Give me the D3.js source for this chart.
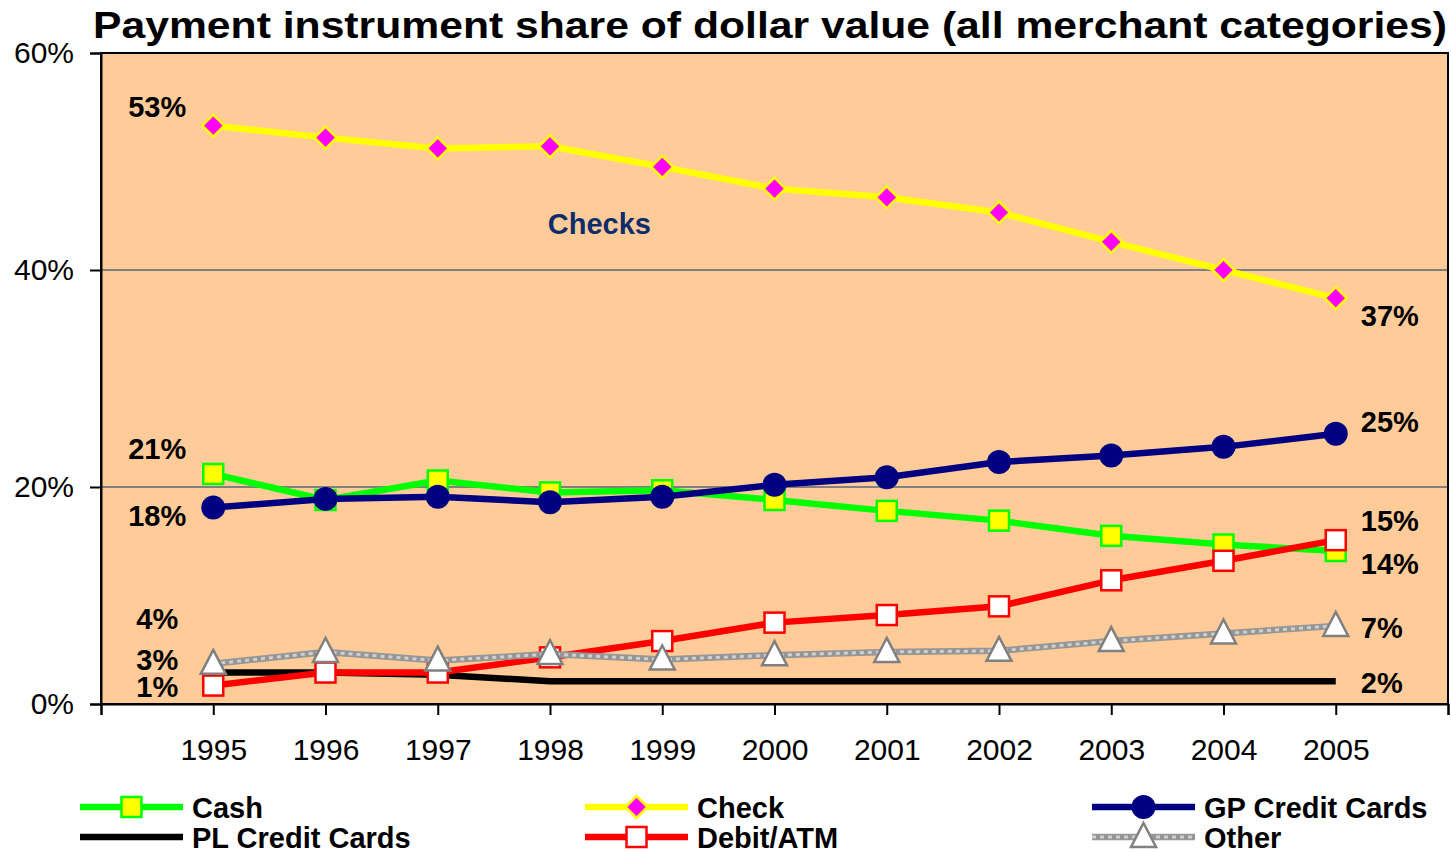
<!DOCTYPE html>
<html>
<head>
<meta charset="utf-8">
<script src="https://cdn.jsdelivr.net/npm/d3@7"></script>
<style>
  body { margin: 0; background: #fff; }
  text { font-family: "Liberation Sans", Arial, sans-serif; }
</style>
</head>
<body>
<div id="chart"></div>
<script>
// data (percent of dollar value)
const years = [1995, 1996, 1997, 1998, 1999, 2000, 2001, 2002, 2003, 2004, 2005];
const cash = [21.2, 18.8, 20.6, 19.5, 19.7, 18.8, 17.8, 16.9, 15.5, 14.7, 14.1];
const check = [53.3, 52.2, 51.2, 51.4, 49.5, 47.5, 46.7, 45.3, 42.6, 40.0, 37.4];
const gpCredit = [18.1, 18.9, 19.1, 18.6, 19.1, 20.2, 20.9, 22.3, 22.9, 23.7, 24.9];
const plCredit = [2.9, 2.9, 2.7, 2.1, 2.1, 2.1, 2.1, 2.1, 2.1, 2.1, 2.1];
const debit = [1.7, 2.9, 2.9, 4.3, 5.8, 7.5, 8.2, 9.0, 11.4, 13.2, 15.1];
const other = [3.7, 4.8, 4.0, 4.6, 4.1, 4.5, 4.8, 4.9, 5.8, 6.5, 7.2];
const yTicks = [0, 20, 40, 60];

// value labels: text, y position in data units
const leftLabels = [["53%", 55.0], ["21%", 23.5], ["18%", 17.3], ["4%", 7.8], ["3%", 4.05], ["1%", 1.6]];
const rightLabels = [["37%", 35.8], ["25%", 26.0], ["15%", 16.9], ["14%", 12.9], ["7%", 7.0], ["2%", 1.9]];

const series = [
  {name: "Cash", values: cash, color: "#00ff00", marker: "square", fill: "#ffff00", mstroke: "#00ff00"},
  {name: "Check", values: check, color: "#ffff00", marker: "diamond", fill: "#ff00ff", mstroke: "#ffff00"},
  {name: "GP Credit Cards", values: gpCredit, color: "#000080", marker: "circle", fill: "#000080", mstroke: "#000080"},
  {name: "PL Credit Cards", values: plCredit, color: "#000000", marker: null},
  {name: "Debit/ATM", values: debit, color: "#ff0000", marker: "square", fill: "#ffffff", mstroke: "#ff0000"},
  {name: "Other", values: other, color: "#969696", marker: "triangle", fill: "#ffffff", mstroke: "#808080", pattern: true}
];

const W = 1451, H = 852;
const margin = {top: 53, right: 3, bottom: 148, left: 101};
const width = W - margin.left - margin.right, height = H - margin.top - margin.bottom;

const svg = d3.select("#chart").append("svg")
  .attr("width", W).attr("height", H);

const x = d3.scaleLinear().domain([1994, 2006]).range([margin.left, margin.left + width]);
const y = d3.scaleLinear().domain([0, 60]).range([margin.top + height, margin.top]);

// plot background
svg.append("rect")
  .attr("x", x(1994)).attr("y", y(60))
  .attr("width", x(2006) - x(1994)).attr("height", y(0) - y(60))
  .attr("fill", "#ffcc99");

// grid lines
svg.append("g").selectAll("line")
  .data([20, 40])
  .join("line")
  .attr("x1", x(1994)).attr("x2", x(2006))
  .attr("y1", d => y(d)).attr("y2", d => y(d))
  .attr("stroke", "#808080").attr("stroke-width", 2);

// frame
svg.append("rect")
  .attr("x", x(1994)).attr("y", y(60))
  .attr("width", x(2006) - x(1994)).attr("height", y(0) - y(60))
  .attr("fill", "none").attr("stroke", "#000").attr("stroke-width", 2);

// y axis
const yAxis = d3.axisLeft(y).tickValues(yTicks).tickFormat(d => d + "%").tickSize(11).tickPadding(16);
const ya = svg.append("g").attr("transform", `translate(${x(1994)},0)`).call(yAxis);
ya.select(".domain").attr("stroke-width", 2);
ya.selectAll(".tick line").attr("stroke-width", 2);
ya.selectAll("text").attr("font-size", 30).attr("fill", "#000")
  .style("font-family", "Liberation Sans, Arial, sans-serif");

// x axis
const xAxis = d3.axisBottom(x).tickValues(d3.range(1994, 2007)).tickFormat(d => years.includes(d) ? d : "")
  .tickSize(11).tickPadding(24);
const xa = svg.append("g").attr("transform", `translate(0,${y(0)})`).call(xAxis);
xa.select(".domain").attr("stroke-width", 2);
xa.selectAll(".tick line").attr("stroke-width", 2);
xa.selectAll("text").attr("font-size", 30).attr("fill", "#000")
  .style("font-family", "Liberation Sans, Arial, sans-serif");

const line = d3.line().x((d, i) => x(years[i])).y(d => y(d));

function drawMarker(g, type, cx, cy, s) {
  if (type === "square") {
    g.append("rect").attr("x", cx - 10).attr("y", cy - 10).attr("width", 20).attr("height", 20)
      .attr("fill", s.fill).attr("stroke", s.mstroke).attr("stroke-width", 2.5);
  } else if (type === "diamond") {
    g.append("path").attr("d", `M${cx},${cy - 11}L${cx + 11},${cy}L${cx},${cy + 11}L${cx - 11},${cy}Z`)
      .attr("fill", s.fill).attr("stroke", s.mstroke).attr("stroke-width", 2.5);
  } else if (type === "circle") {
    g.append("circle").attr("cx", cx).attr("cy", cy).attr("r", 12).attr("fill", s.fill);
  } else if (type === "triangle") {
    g.append("path").attr("d", `M${cx},${cy - 14}L${cx + 12.5},${cy + 10}L${cx - 12.5},${cy + 10}Z`)
      .attr("fill", s.fill).attr("stroke", s.mstroke).attr("stroke-width", 2.5);
  }
}

function strokeLine(g, d, s) {
  g.append("path").attr("d", d).attr("fill", "none")
    .attr("stroke", s.color).attr("stroke-width", 6.5).attr("stroke-linejoin", "round");
  if (s.pattern) {
    g.append("path").attr("d", d).attr("fill", "none")
      .attr("stroke", "#cfcfcf").attr("stroke-width", 3).attr("stroke-dasharray", "4,4");
  }
}

// series
series.forEach(s => {
  const g = svg.append("g");
  strokeLine(g, line(s.values), s);
  if (s.marker) s.values.forEach((v, i) => drawMarker(g, s.marker, x(years[i]), y(v), s));
});

// value labels
const labelG = svg.append("g").attr("font-size", 29).attr("font-weight", "bold").attr("fill", "#000");
labelG.selectAll(".ll").data(leftLabels).join("text")
  .attr("x", x(1995) - 56).attr("y", d => y(d[1]))
  .attr("text-anchor", "middle").attr("dominant-baseline", "central").text(d => d[0]);
labelG.selectAll(".rl").data(rightLabels).join("text")
  .attr("x", x(2005) + 25).attr("y", d => y(d[1]))
  .attr("text-anchor", "start").attr("dominant-baseline", "central").text(d => d[0]);

svg.append("text")
  .attr("x", x(1998.44)).attr("y", y(44.2))
  .attr("text-anchor", "middle").attr("dominant-baseline", "central")
  .attr("font-size", 29).attr("font-weight", "bold").attr("fill", "#0c2c6c")
  .text("Checks");

// title
svg.append("text")
  .attr("x", 93).attr("y", 38)
  .attr("textLength", 1354).attr("lengthAdjust", "spacingAndGlyphs")
  .attr("font-size", 36).attr("font-weight", "bold").attr("fill", "#000")
  .text("Payment instrument share of dollar value (all merchant categories)");

// legend
const legendCols = [80, 585, 1092];
const legendRows = [807, 837];
series.forEach((s, i) => {
  const lx = legendCols[i % 3], ly = legendRows[Math.floor(i / 3)];
  const g = svg.append("g");
  strokeLine(g, `M${lx},${ly}L${lx + 103},${ly}`, s);
  if (s.marker) drawMarker(g, s.marker, lx + 51.5, ly, s);
  g.append("text").attr("x", lx + 112).attr("y", ly + 11)
    .attr("font-size", 29).attr("font-weight", "bold").attr("fill", "#000")
    .text(s.name);
});
</script>
</body>
</html>
